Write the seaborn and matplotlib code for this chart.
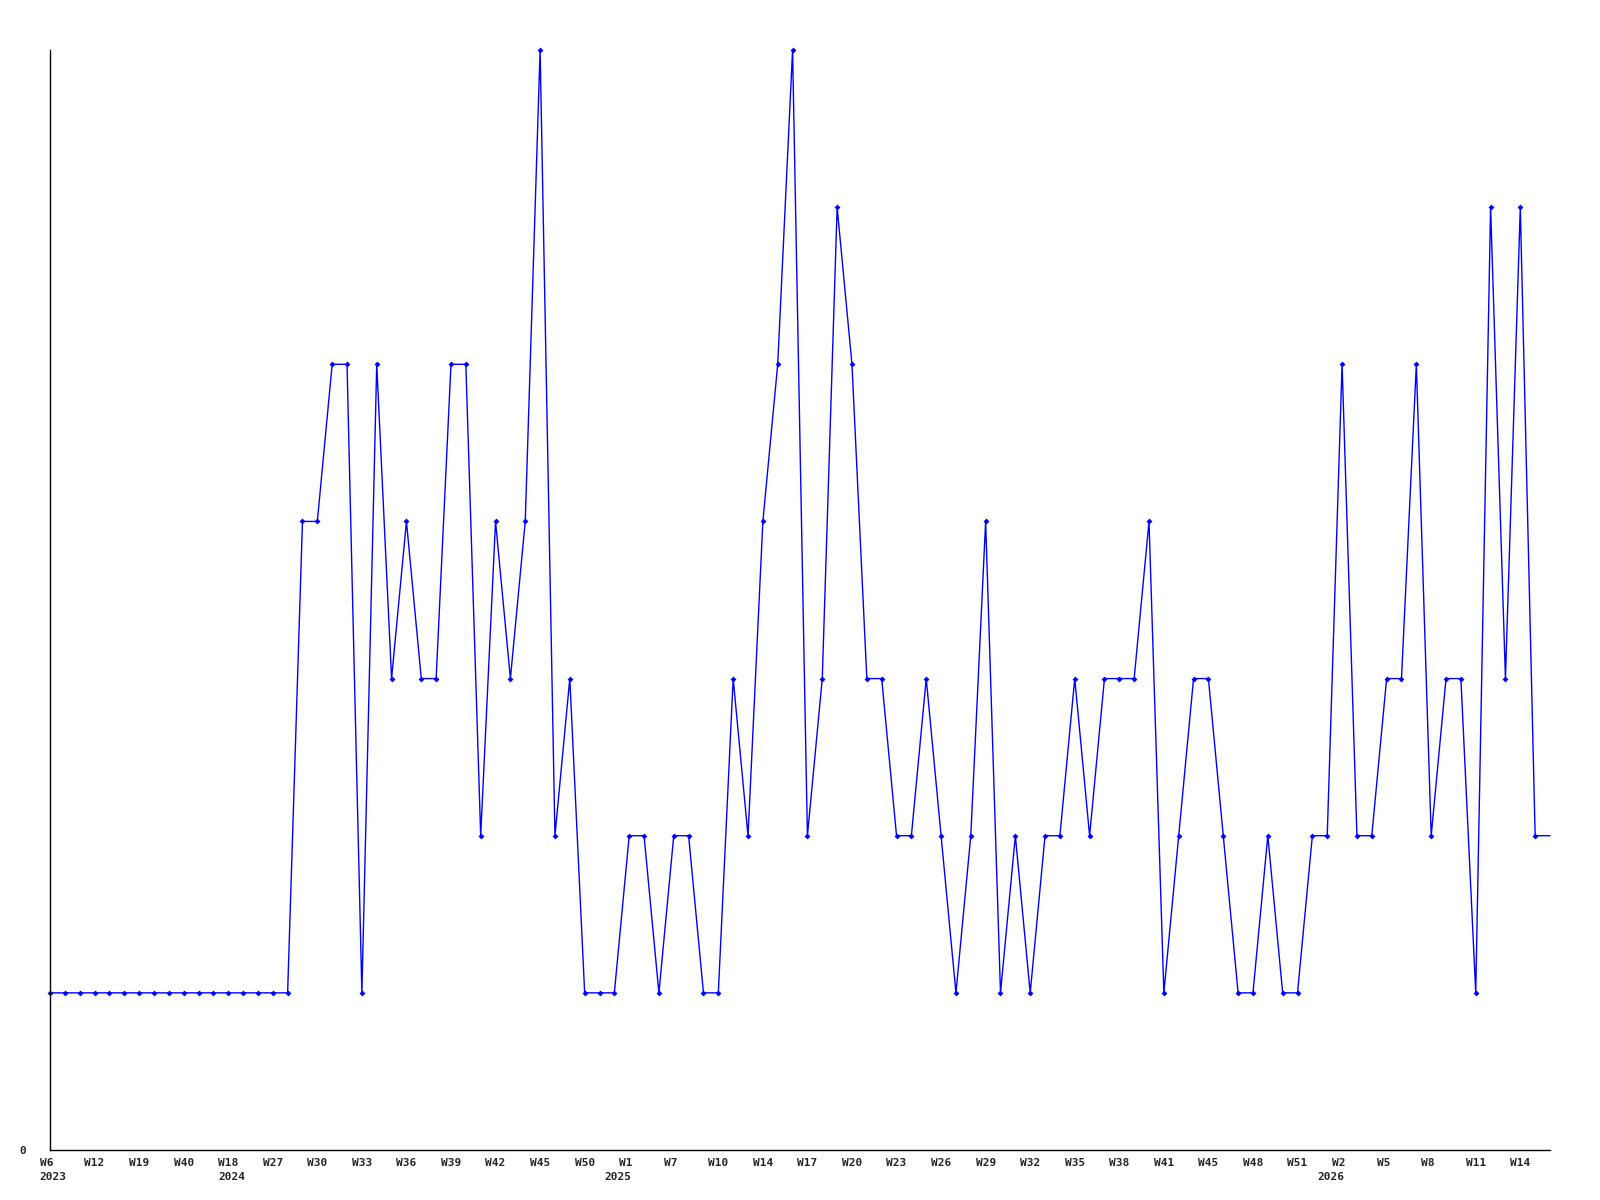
import pandas as pd
import seaborn as sns
import matplotlib.pyplot as plt

# weekly values, one per data point (the last one sits on the right edge, no marker)
values = [
    1, 1, 1, 1, 1, 1, 1, 1, 1, 1, 1, 1, 1, 1, 1, 1, 1,
    4, 4, 5, 5, 1, 5, 3, 4, 3, 3, 5, 5, 2, 4, 3, 4, 7, 2, 3,
    1, 1, 1, 2, 2, 1, 2, 2, 1, 1, 3, 2, 4, 5, 7, 2, 3, 6, 5,
    3, 3, 2, 2, 3, 2, 1, 2, 4, 1, 2, 1, 2, 2, 3, 2, 3, 3, 3,
    4, 1, 2, 3, 3, 2, 1, 1, 2, 1, 1, 2, 2, 5, 2, 2, 3, 3, 5,
    2, 3, 3, 1, 6, 3, 6, 2, 2,
]

# week labels shown on every third point
tick_weeks = [
    "W6", "W12", "W19", "W40", "W18", "W27", "W30", "W33", "W36", "W39",
    "W42", "W45", "W50", "W1", "W7", "W10", "W14", "W17", "W20", "W23",
    "W26", "W29", "W32", "W35", "W38", "W41", "W45", "W48", "W51", "W2",
    "W5", "W8", "W11", "W14",
]
# year labels and the point index they sit under
years = ["2023", "2024", "2025", "2026"]
year_idx = [0, 12, 38, 86]

df = pd.DataFrame({"idx": range(len(values)), "value": values})

sns.set_style("white")
plt.rcParams["font.family"] = ["DejaVu Sans Mono"]

fig = plt.figure(figsize=(16, 12), dpi=100)
ax = fig.add_axes([50 / 1600, 50 / 1200, 1500 / 1600, 1100 / 1200])

sns.lineplot(data=df, x="idx", y="value", ax=ax, color="#0000ff",
             linewidth=1.0, marker="D", markersize=3, markeredgewidth=0,
             markevery=list(range(len(values) - 1)), clip_on=False)

ax.set_xlim(0, len(values) - 1)
ax.set_ylim(0, 7)

# x ticks: week labels as 3-char fields, centred on the point
ticks = list(range(0, 3 * len(tick_weeks), 3))
ax.set_xticks(ticks)
ax.set_xticklabels([w.ljust(3) for w in tick_weeks], fontsize=8,
                   fontweight="bold")
ax.tick_params(axis="x", length=0, pad=6)

# years on a second row
for y, i in zip(years, year_idx):
    ax.annotate(y, xy=(i, 0), xycoords=("data", "axes fraction"),
                xytext=(2.4, -16), textcoords="offset points",
                ha="center", va="top", fontsize=8, fontweight="bold")

ax.set_yticks([0])
ax.set_yticklabels(["0"], fontsize=8, fontweight="bold")
ax.tick_params(axis="y", length=0, pad=17)

ax.set_xlabel("")
ax.set_ylabel("")
for s in ["top", "right"]:
    ax.spines[s].set_visible(False)
for s in ["left", "bottom"]:
    ax.spines[s].set_color("black")
    ax.spines[s].set_linewidth(1.0)

plt.savefig("out.png", dpi=100)
